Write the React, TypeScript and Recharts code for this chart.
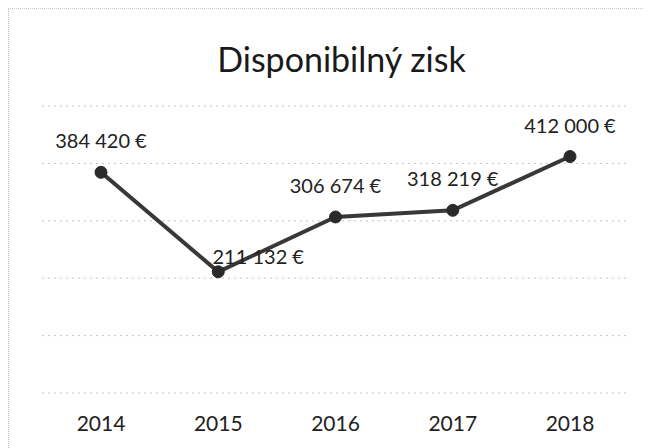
import React from "react";
import { LineChart, Line, XAxis, YAxis, CartesianGrid, LabelList } from "recharts";

const years = ["2014", "2015", "2016", "2017", "2018"];
const zisk = [384420, 211132, 306674, 318219, 412000];
const yTicks = [0, 100000, 200000, 300000, 400000, 500000];

const data = years.map((y, i) => ({ year: y, zisk: zisk[i] }));

const font = "Lato, 'Open Sans', sans-serif";

const fmt = (v: number) =>
  v.toLocaleString("en-US").replace(/,/g, " ") + " €";

function ValueLabel(props: any) {
  const { x, y, value, index } = props;
  // 2015 label sits to the right of its point, like in the original
  const dx = index === 1 ? 40 : 0;
  const dy = index === 1 ? -8 : -24;
  return (
    <text
      x={x + dx}
      y={y + dy}
      textAnchor="middle"
      fontSize={20}
      fontFamily={font}
      fill="#222"
    >
      {fmt(value)}
    </text>
  );
}

export default function App() {
  return (
    <div
      style={{
        position: "relative",
        width: 643,
        height: 440,
        borderLeft: "1px dotted #bbb",
        borderTop: "1px dotted #ccc",
        boxSizing: "border-box",
        background: "#fff",
      }}
    >
      <div
        style={{
          position: "absolute",
          top: 30,
          left: 0,
          width: 665,
          textAlign: "center",
          fontFamily: font,
          fontSize: 34,
          lineHeight: "40px",
          color: "#1a1a1a",
        }}
      >
        Disponibilný zisk
      </div>
      <LineChart
        width={643}
        height={440}
        data={data}
        margin={{ top: 97, right: 23, bottom: 26, left: 33 }}
      >
        <CartesianGrid
          vertical={false}
          stroke="#c4c4c4"
          strokeDasharray="2 4"
        />
        <XAxis
          dataKey="year"
          axisLine={false}
          tickLine={false}
          tickMargin={17}
          height={30}
          padding={{ left: 59, right: 59 }}
          tick={{ fontSize: 21, fontFamily: font, fill: "#222" }}
        />
        <YAxis hide domain={[0, 500000]} ticks={yTicks} />
        <Line
          type="linear"
          dataKey="zisk"
          stroke="#383838"
          strokeWidth={4}
          dot={{ r: 6, fill: "#2a2a2a", stroke: "#2a2a2a", strokeWidth: 1 }}
          isAnimationActive={false}
        >
          <LabelList dataKey="zisk" content={<ValueLabel />} />
        </Line>
      </LineChart>
    </div>
  );
}
